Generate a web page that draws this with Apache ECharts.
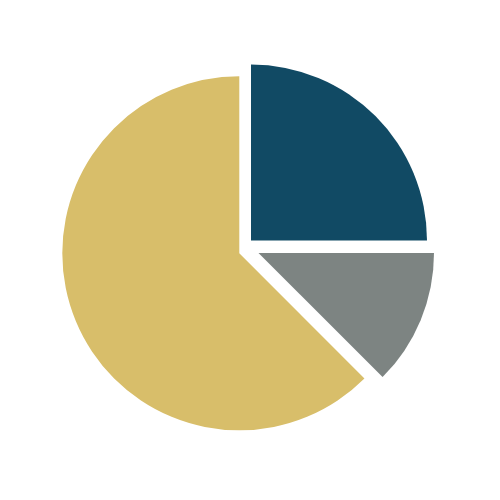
<!DOCTYPE html>
<html>
<head>
<meta charset="utf-8">
<script src="https://cdn.jsdelivr.net/npm/echarts@6/dist/echarts.min.js"></script>
<style>
  html, body { margin: 0; padding: 0; background: #fff; }
  #main { width: 500px; height: 500px; }
</style>
</head>
<body>
<div id="main"></div>
<script>
// slice data (clockwise from 12 o'clock)
var names = ['A', 'B', 'C'];
var values = [25, 12.5, 62.5];
var colors = ['#114a64', '#7d8482', '#d8be6a'];

// each slice is pulled apart a little, so each gets its own centre / radius
var centers = [[251, 240.5], [258.5, 253], [239.3, 253.3]];
var radii = [176, 175.5, 177];

var myChart = echarts.init(document.getElementById('main'));

var series = [];
values.forEach(function (v, i) {
  series.push({
    type: 'pie',
    center: centers[i],
    radius: radii[i],
    startAngle: 90,
    clockwise: true,
    silent: true,
    animation: false,
    label: { show: false },
    labelLine: { show: false },
    emphasis: { disabled: true },
    itemStyle: { borderWidth: 0 },
    data: values.map(function (val, j) {
      return {
        name: names[j],
        value: val,
        itemStyle: { color: j === i ? colors[j] : 'rgba(0,0,0,0)', borderWidth: 0 }
      };
    })
  });
});

var option = {
  backgroundColor: '#ffffff',
  tooltip: { show: false },
  legend: { show: false },
  series: series
};

myChart.setOption(option);
</script>
</body>
</html>
